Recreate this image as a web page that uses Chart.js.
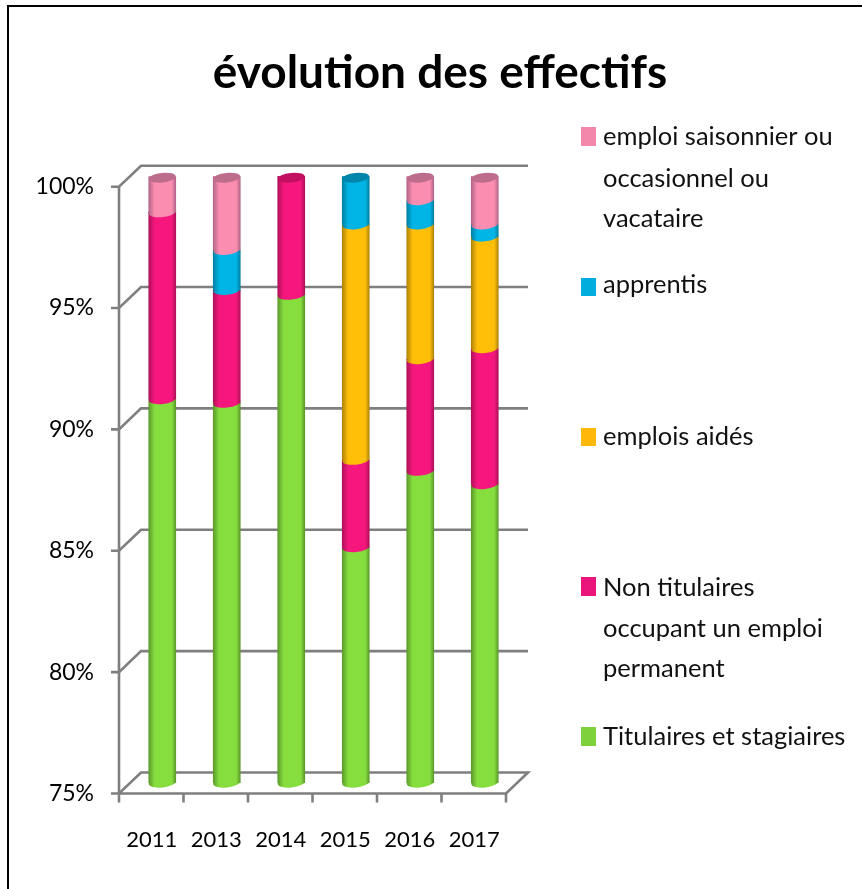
<!DOCTYPE html>
<html><head><meta charset="utf-8">
<style>html,body{margin:0;padding:0;background:#fff}#w{position:relative;width:862px;height:889px}canvas{display:block}</style>
<script src="https://cdn.jsdelivr.net/npm/chart.js@4"></script></head>
<body><div id="w"><canvas id="c" width="862" height="889"></canvas></div>
<script>
const categories = ['2011','2013','2014','2015','2016','2017'];
const titulaires = [90.8, 90.65, 95.1, 84.7, 87.85, 87.3];
const nonTitulaires = [7.7, 4.65, 4.9, 3.6, 4.6, 5.6];
const emploisAides = [0, 0, 0, 9.7, 5.55, 4.6];
const apprentis = [0, 1.65, 0, 2.0, 1.0, 0.5];
const saisonniers = [1.5, 3.05, 0, 0, 1.0, 2.0];
const seriesNames = ['Titulaires et stagiaires','Non titulaires occupant un emploi permanent','emplois aidés','apprentis','emploi saisonnier ou occasionnel ou vacataire'];
const FONT = 'Lato, "Open Sans", sans-serif';
const palette = [
 {mid:'#86DE3E',dark:'#5C9A2C',cap:'#5f9a30',key:'#7FD13B'},
 {mid:'#F5177D',dark:'#B0105A',cap:'#C20F62',key:'#EA157A'},
 {mid:'#FFBE08',dark:'#B08508',cap:'#B08508',key:'#FEB80A'},
 {mid:'#00B5E6',dark:'#0080A4',cap:'#0085AA',key:'#00ADDC'},
 {mid:'#FB8DB0',dark:'#B3658A',cap:'#BE6C8C',key:'#F287AB'}
];
const BAR_W = 27, RX = 13.5, RY = 4.8, TILT = -0.1, DX = 11, DY = 10.5, LIP = 4;
const legendRows = [
 {s:4, box:[581,127,15,19], lines:[['emploi saisonnier ou',603,145],['occasionnel ou',603,187],['vacataire',603,227]]},
 {s:3, box:[581,278,15,18], lines:[['apprentis',603,293]]},
 {s:2, box:[581,428,15,18], lines:[['emplois aidés',603,445]]},
 {s:1, box:[581,577,15,19], lines:[['Non titulaires',603,596],['occupant un emploi',603,637],['permanent',603,677]]},
 {s:0, box:[581,727,15,19], lines:[['Titulaires et stagiaires',603,745]]}
];
function grad(ctx, cx, p){
  const g = ctx.createLinearGradient(cx-BAR_W/2,0,cx+BAR_W/2,0);
  g.addColorStop(0,p.dark); g.addColorStop(.22,p.mid); g.addColorStop(.85,p.mid); g.addColorStop(1,p.dark);
  return g;
}
function fill(i){
  return function(ctx){
    const chart = ctx.chart;
    if(!chart.chartArea || ctx.dataIndex===undefined) return palette[i].mid;
    return grad(chart.ctx, chart.scales.x.getPixelForValue(ctx.dataIndex), palette[i]);
  };
}
const series = [titulaires,nonTitulaires,emploisAides,apprentis,saisonniers];
const frame = {id:'frame',beforeDraw(ch){
  const c=ch.ctx; c.save(); c.fillStyle='#fff'; c.fillRect(0,0,862,889);
  c.strokeStyle='#000'; c.lineWidth=2; c.beginPath(); c.moveTo(8,889); c.lineTo(8,6); c.lineTo(862,6); c.stroke(); c.restore();
}};
const walls = {id:'walls',beforeDatasetsDraw(ch){
  const c=ch.ctx,y=ch.scales.y,a=ch.chartArea;
  c.save(); c.strokeStyle='#7F7F7F'; c.lineWidth=2.6; c.lineCap='butt'; c.lineJoin='miter';
  const fl=a.left-DX, fr=a.right-DX, bl=a.left+DX, br=a.right+DX;
  y.ticks.forEach(t=>{
    const p=y.getPixelForValue(t.value);
    c.beginPath(); c.moveTo(fl-8,p+DY); c.lineTo(fl,p+DY); c.lineTo(bl,p-DY); c.lineTo(br,p-DY);
    if(t.value===75){ c.lineTo(fr,p+DY); c.lineTo(fl,p+DY); }
    c.stroke();
  });
  c.beginPath(); c.moveTo(fl,y.getPixelForValue(100)+DY); c.lineTo(fl,y.getPixelForValue(75)+DY+9); c.stroke();
  const step=(fr-fl)/categories.length;
  for(let i=1;i<=categories.length;i++){ const x=fl+step*i; c.beginPath(); c.moveTo(x,y.getPixelForValue(75)+DY); c.lineTo(x,y.getPixelForValue(75)+DY+9); c.stroke(); }
  c.restore();
}};
const cyl = {id:'cyl',afterDatasetsDraw(ch){
  const c=ch.ctx;
  const n=categories.length, bottom=ch.chartArea.bottom;
  for(let j=0;j<n;j++){
    let topBar=null,topIdx=-1;
    series.forEach((s,i)=>{
      if(!s[j]) return;
      const el=ch.getDatasetMeta(i).data[j];
      const base=Math.min(el.base,bottom);
      c.save(); c.beginPath();
      c.ellipse(el.x,base+LIP-RY+0.5,RX,RY,TILT,0,Math.PI*2);
      c.fillStyle=grad(c,el.x,palette[i]); c.fill(); c.restore();
      topBar=el; topIdx=i;
    });
    if(topBar){
      c.save(); c.beginPath();
      c.ellipse(topBar.x,topBar.y+1.5,RX,RY,TILT,0,Math.PI*2);
      c.fillStyle=palette[topIdx].cap; c.fill(); c.restore();
    }
  }
}};
const legendBlock = {id:'legendBlock',afterDraw(ch){
  const c=ch.ctx; c.save();
  c.font='25.5px '+FONT; c.textBaseline='alphabetic'; c.textAlign='left';
  legendRows.forEach(r=>{
    c.fillStyle=palette[r.s].key; c.fillRect(...r.box);
    c.fillStyle='#111';
    r.lines.forEach(l=>c.fillText(l[0],l[1],l[2]));
  });
  c.restore();
}};
new Chart(document.getElementById('c'),{
  type:'bar',
  data:{labels:categories,datasets:seriesNames.map((n,i)=>({label:n,data:series[i],backgroundColor:fill(i),barThickness:BAR_W,borderWidth:0}))},
  plugins:[frame,walls,cyl,legendBlock],
  options:{
    responsive:false,animation:false,
    layout:{padding:{left:18,right:0,top:0,bottom:0}},
    plugins:{
      legend:{display:false},tooltip:{enabled:false},
      title:{display:true,text:'évolution des effectifs',color:'#000',font:{family:FONT,size:46,weight:'bold',lineHeight:1.2},padding:{top:46,bottom:75}}
    },
    scales:{
      x:{stacked:true,grid:{display:false,drawTicks:false},border:{display:false},
        afterFit(s){s.height=106;},
        ticks:{autoSkip:false,maxRotation:0,minRotation:0,padding:44,labelOffset:-10.5,color:'#000',font:{family:FONT,size:22}}},
      y:{stacked:true,min:75,max:100,grid:{display:false,drawTicks:false},border:{display:false},
        afterFit(s){s.width=112;},
        ticks:{stepSize:5,padding:36,labelOffset:10.5,color:'#000',font:{family:FONT,size:23},callback:v=>v+'%'}},
      spacer:{position:'right',display:true,grid:{display:false,drawTicks:false},border:{display:false},ticks:{display:false},afterFit(s){s.width=345;}}
    }
  }
});
</script></body></html>
